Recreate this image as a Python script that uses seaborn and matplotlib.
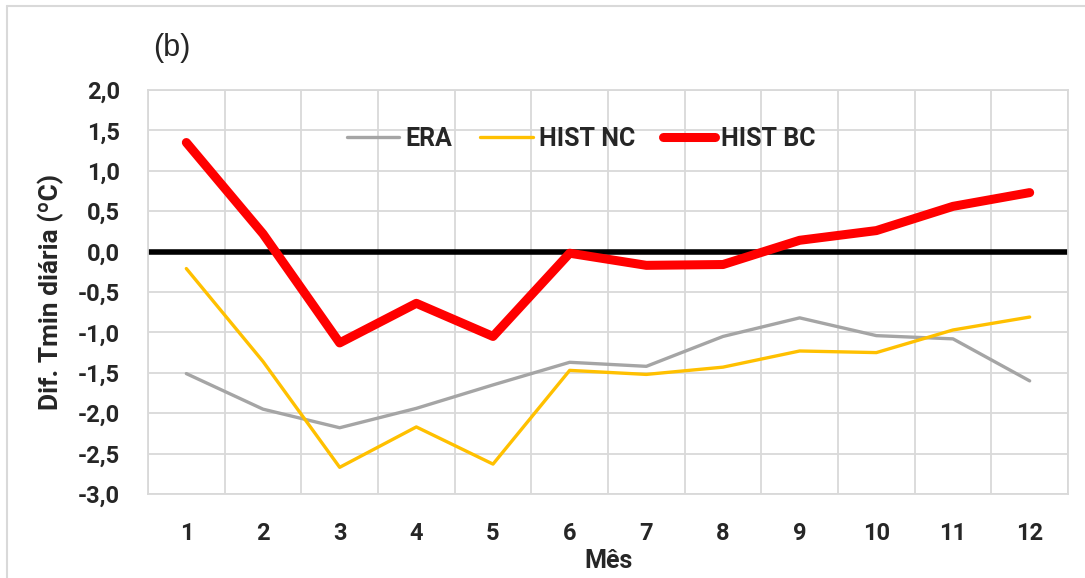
import pandas as pd
import seaborn as sns
import matplotlib.pyplot as plt
from matplotlib.lines import Line2D
from matplotlib.ticker import FuncFormatter, MultipleLocator

sns.set_theme(style='white')
plt.rcParams['font.family'] = ['Roboto', 'DejaVu Sans']
plt.rcParams['font.weight'] = 'bold'

meses = [1, 2, 3, 4, 5, 6, 7, 8, 9, 10, 11, 12]
era = [-1.51, -1.95, -2.18, -1.94, -1.65, -1.37, -1.42, -1.05, -0.82, -1.04, -1.08, -1.60]
hist_nc = [-0.21, -1.36, -2.67, -2.17, -2.63, -1.47, -1.52, -1.43, -1.23, -1.25, -0.97, -0.81]
hist_bc = [1.35, 0.22, -1.13, -0.64, -1.05, -0.02, -0.17, -0.16, 0.14, 0.26, 0.56, 0.73]

series = {'ERA': era, 'HIST NC': hist_nc, 'HIST BC': hist_bc}
cores = {'ERA': '#A5A5A5', 'HIST NC': '#FFC000', 'HIST BC': '#FF0000'}
larguras = {'ERA': 2.4, 'HIST NC': 2.4, 'HIST BC': 6.5}

df = pd.concat([pd.DataFrame({'Mês': meses, 'valor': v, 'serie': k}) for k, v in series.items()])

fig = plt.figure(figsize=(10.85, 5.78), dpi=100)
ax = fig.add_axes([148 / 1085, 84 / 578, 920 / 1085, 404 / 578])

grid_cor = '#D9D9D9'
ax.axhline(0, color='black', lw=4, zorder=2)

for nome in series:
    sns.lineplot(data=df[df['serie'] == nome], x='Mês', y='valor', ax=ax,
                 color=cores[nome], lw=larguras[nome], label=nome,
                 solid_capstyle='round', solid_joinstyle='round', zorder=3)

ax.set_xlim(0.5, 12.5)
ax.set_ylim(-3.0, 2.0)
ax.set_xticks(meses)
ax.xaxis.set_minor_locator(MultipleLocator(1, offset=0.5))
ax.yaxis.set_major_locator(MultipleLocator(0.5))
ax.yaxis.set_major_formatter(FuncFormatter(lambda v, _: f'{v:.1f}'.replace('.', ',')))
ax.grid(which='minor', axis='x', color=grid_cor, lw=1.3)
ax.grid(which='major', axis='y', color=grid_cor, lw=1.3)
ax.set_axisbelow(True)
for s in ax.spines.values():
    s.set_color(grid_cor)
    s.set_linewidth(1.3)

ax.tick_params(axis='both', which='both', length=0)
ax.tick_params(axis='x', pad=20, labelsize=17)
ax.tick_params(axis='y', pad=20, labelsize=17)

ax.set_xlabel('Mês', fontsize=18, fontweight='bold', labelpad=3)
ax.set_ylabel('Dif. Tmin diária (ºC)', fontsize=19, fontweight='bold', labelpad=10)

leg = ax.legend(loc='center', bbox_to_anchor=(0.471, 0.879), ncol=3, frameon=False,
                handlelength=2.1, handletextpad=0.25, columnspacing=1.1,
                prop={'weight': 'bold', 'size': 18})

fig.text(153 / 1085, 1 - 48 / 578, '(b)', fontsize=22, va='center', ha='left',
         fontweight='normal', family=['Liberation Sans', 'DejaVu Sans'])

# moldura externa (só topo e esquerda visíveis)
fig.add_artist(Line2D([7 / 1085, 1.0], [1 - 6 / 578, 1 - 6 / 578], color=grid_cor, lw=1.5))
fig.add_artist(Line2D([7 / 1085, 7 / 1085], [0.0, 1 - 6 / 578], color=grid_cor, lw=1.5))

fig.savefig('out.png', dpi=100)
